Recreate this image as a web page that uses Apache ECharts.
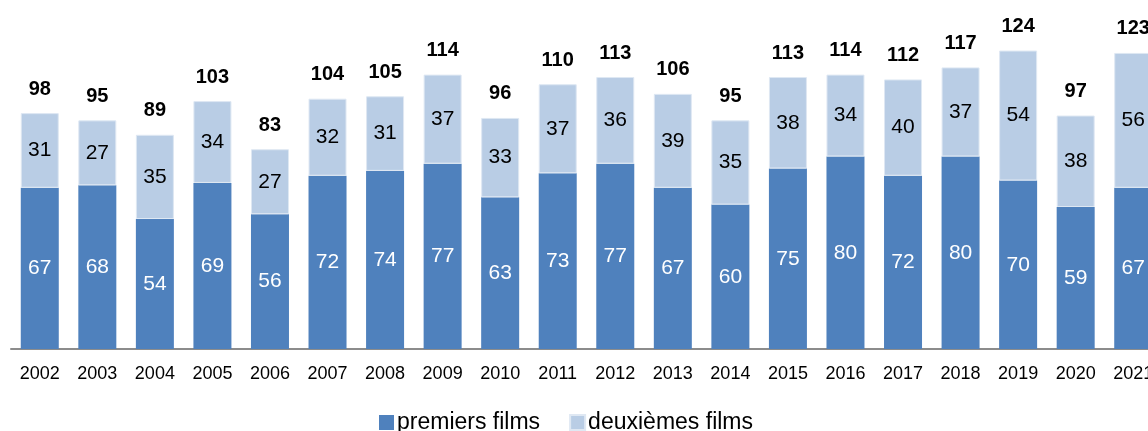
<!DOCTYPE html>
<html><head><meta charset="utf-8">
<script src="https://cdn.jsdelivr.net/npm/echarts@6/dist/echarts.min.js"></script>
<style>html,body{margin:0;padding:0;background:#fff;overflow:hidden}#c{width:1162px;height:431px}</style>
</head><body><div id="c"></div>
<script>
const years = ['2002','2003','2004','2005','2006','2007','2008','2009','2010','2011','2012','2013','2014','2015','2016','2017','2018','2019','2020','2021'];
const premiers = [67,68,54,69,56,72,74,77,63,73,77,67,60,75,80,72,80,70,59,67];
const deuxiemes = [31,27,35,34,27,32,31,37,33,37,36,39,35,38,34,40,37,54,38,56];
const totals = [98,95,89,103,83,104,105,114,96,110,113,106,95,113,114,112,117,124,97,123];

const font = '"Liberation Sans", Arial, sans-serif';
const chart = echarts.init(document.getElementById('c'));
chart.setOption({
  animation: false,
  textStyle: {fontFamily: font},
  grid: {left: 11, right: 0, top: 0, bottom: 82, containLabel: false},
  legend: {
    top: 406, left: 374, icon: 'rect', itemWidth: 15, itemHeight: 15, itemGap: 29,
    data: ['premiers films', 'deuxièmes films'],
    textStyle: {fontSize: 23, color: '#000', fontFamily: font, padding: [0,0,0,-2]}
  },
  xAxis: {
    type: 'category', data: years,
    axisLine: {lineStyle: {color: '#8c8c8c', width: 2}},
    axisTick: {inside: true, length: 6, lineStyle: {color: '#8c8c8c', width: 2}},
    axisLabel: {color: '#000', fontSize: 18, margin: 16, fontFamily: font}
  },
  yAxis: {type: 'value', min: 0, max: 145, show: false, splitLine: {show: false}},
  series: [
    {name: 'premiers films', type: 'bar', stack: 's', barWidth: 38, data: premiers,
     itemStyle: {color: '#4F81BD'},
     label: {show: true, position: 'inside', color: '#fff', fontSize: 21, fontFamily: font}},
    {name: 'deuxièmes films', type: 'bar', stack: 's', barWidth: 38, data: deuxiemes,
     itemStyle: {color: '#B9CDE5', borderColor: '#dfe8f3', borderWidth: 1},
     label: {show: true, position: 'inside', color: '#000', fontSize: 21, fontFamily: font}},
    {name: 'total', type: 'bar', stack: 's', barWidth: 38, data: totals.map(() => 0),
     itemStyle: {color: 'transparent'},
     label: {show: true, position: 'top', distance: 14, color: '#000', fontSize: 20, fontWeight: 'bold', fontFamily: font,
       formatter: p => totals[p.dataIndex]}}
  ]
});
</script></body></html>
